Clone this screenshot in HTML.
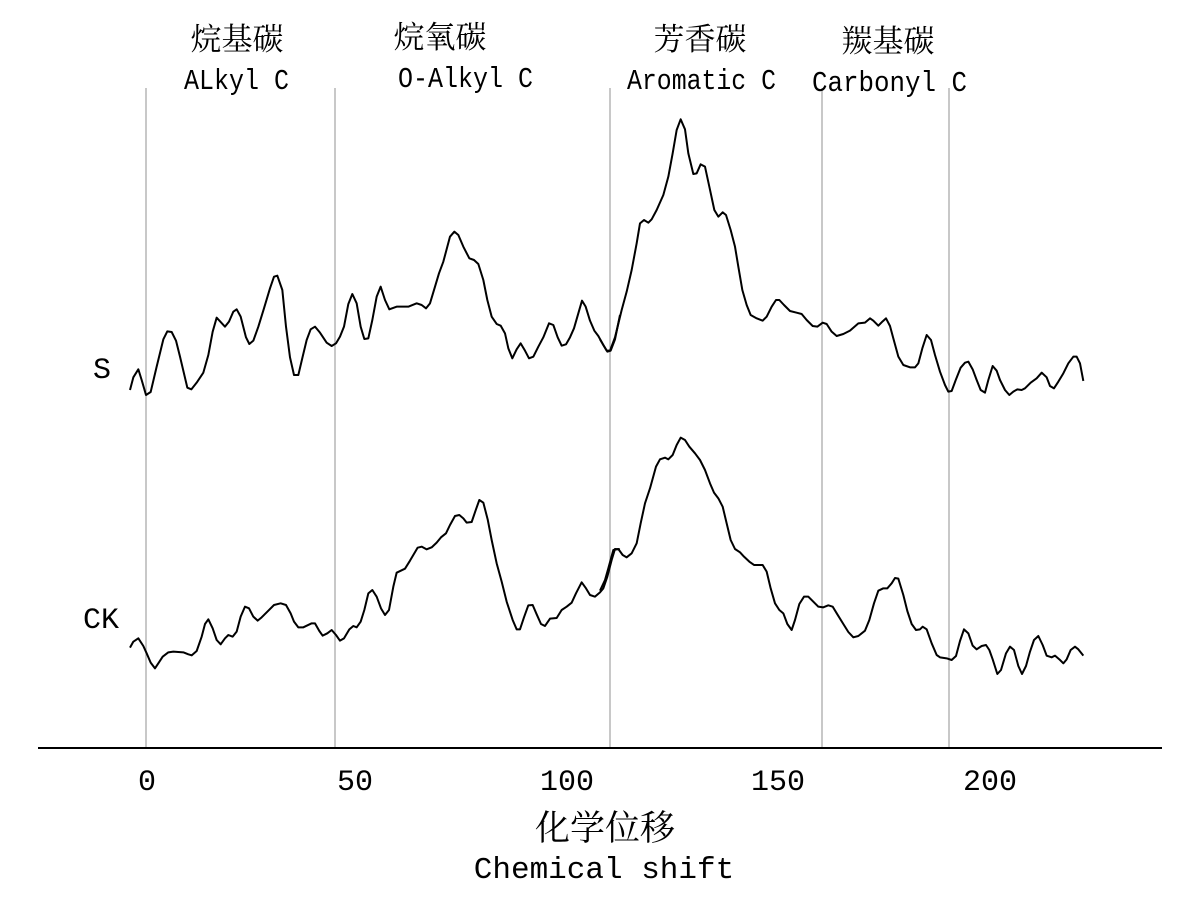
<!DOCTYPE html>
<html><head><meta charset="utf-8"><style>
html,body{margin:0;padding:0;background:#fff;}
svg{display:block}
.m{font-family:"Liberation Mono","Noto Serif CJK SC",monospace;fill:#000}
.c{font-family:"Noto Serif CJK SC","Noto Sans CJK SC",serif;fill:#000}
</style></head><body>
<svg width="1181" height="901" viewBox="0 0 1181 901" xmlns="http://www.w3.org/2000/svg">
<g stroke="#aaa" stroke-width="1.3">
<line x1="146" y1="88" x2="146" y2="748"/>
<line x1="335" y1="88" x2="335" y2="748"/>
<line x1="610" y1="88" x2="610" y2="748"/>
<line x1="822" y1="88" x2="822" y2="748"/>
<line x1="949" y1="88" x2="949" y2="748"/>
</g>
<line x1="38" y1="748" x2="1162" y2="748" stroke="#000" stroke-width="2"/>
<g fill="none" stroke="#000" stroke-width="2" stroke-linejoin="round">
<polyline vector-effect="non-scaling-stroke" transform="translate(120,100) scale(0.33333)" points="30,870 40,832 55,808 65,840 78,885 92,876 110,800 130,718 142,694 155,696 168,722 180,770 202,863 214,868 230,848 250,818 265,765 278,695 290,653 315,680 327,665 340,635 350,628 362,650 378,712 388,732 400,722 415,680 432,625 450,565 462,530 472,527 487,570 498,680 510,772 522,825 535,825 548,770 560,720 572,688 585,680 600,698 620,728 635,738 648,730 660,710 672,680 685,612 697,582 710,610 722,680 733,717 745,715 757,660 770,590 782,560 795,600 808,628 830,620 865,620 890,610 905,615 918,625 930,610 945,560 957,520 970,485 990,410 1003,395 1015,405 1030,440 1048,475 1062,480 1075,492 1090,540 1102,600 1115,650 1130,672 1142,677 1155,700 1165,745 1177,775 1190,748 1202,730 1215,752 1227,775 1240,770 1255,740 1270,712 1287,670 1300,675 1313,712 1325,737 1338,733 1350,712 1362,685 1375,640 1386,602 1397,620 1410,662 1423,692 1435,708 1450,735 1462,755 1472,752 1485,718 1500,645"/>
<polyline vector-effect="non-scaling-stroke" transform="translate(600,100) scale(0.33333)" points="0,718 20,752 30,752 45,712 65,630 80,575 95,510 110,430 120,370 132,360 145,368 155,358 170,330 190,285 205,230 218,160 230,90 242,58 255,88 265,160 280,222 290,220 302,193 315,200 328,260 343,330 355,350 368,337 378,345 392,390 405,440 415,500 427,570 440,615 452,645 470,655 488,662 500,650 515,620 528,600 538,600 552,615 570,633 590,638 605,642 620,660 638,678 652,680 668,668 680,672 695,695 710,708 730,702 750,692 775,670 795,668 810,655 820,662 835,677 848,664 858,655 870,678 880,715 895,770 910,795 930,802 945,802 955,790 967,745 980,705 993,720 1005,765 1020,815 1035,855 1045,875 1055,873 1068,838 1082,803 1095,788 1105,785 1118,808 1130,840 1142,870 1155,878 1165,840 1178,798 1190,812 1200,840 1215,870 1228,885 1240,875 1252,868 1265,870 1275,865 1292,848 1310,835 1325,818 1340,832 1350,858 1362,865 1375,845 1390,820 1405,790 1420,770 1430,770 1440,790 1450,843"/>
<polyline vector-effect="non-scaling-stroke" transform="translate(120,420) scale(0.33333)" points="30,683 40,665 55,655 70,678 80,700 92,728 105,745 115,730 128,710 145,697 160,695 190,697 205,703 215,706 230,693 245,650 255,612 265,598 278,625 290,660 302,673 315,655 325,645 338,650 350,635 362,590 375,560 387,565 400,590 413,602 425,592 445,572 462,555 482,550 498,555 512,580 522,605 535,622 550,622 575,610 585,610 598,633 608,647 622,640 635,630 648,645 660,662 672,655 688,628 700,618 710,622 722,605 733,570 745,520 757,510 770,530 783,565 795,585 807,570 820,500 830,458 855,446 870,422 893,383 905,380 920,388 935,382 950,368 963,352 978,340 990,315 1005,288 1018,285 1030,295 1040,308 1055,306 1068,268 1078,240 1090,248 1103,298 1115,360 1130,430 1145,485 1160,545 1178,600 1190,628 1200,628 1212,592 1225,556 1238,555 1250,583 1263,612 1275,618 1290,596 1310,594 1325,570 1340,560 1355,548 1368,520 1385,487 1398,505 1410,525 1425,530 1440,517 1450,505 1462,470 1475,420 1485,387 1500,388"/>
<polyline vector-effect="non-scaling-stroke" transform="translate(600,420) scale(0.33333)" points="0,512 15,480 25,445 40,390 55,387 68,405 80,412 95,400 110,370 122,310 135,250 150,205 168,140 180,118 195,113 205,118 218,105 230,75 242,53 255,60 268,80 285,100 300,120 315,150 330,190 342,218 355,235 368,260 380,310 392,360 405,387 420,397 432,410 448,425 462,435 488,435 500,455 512,505 525,550 538,570 550,580 562,612 575,630 585,600 598,552 612,530 625,530 640,545 655,560 670,562 685,556 698,560 712,583 730,612 745,636 760,652 775,648 795,632 808,600 822,550 835,512 850,505 862,505 875,490 885,474 895,476 910,525 922,573 935,612 948,630 960,628 968,620 980,628 995,670 1010,705 1020,712 1040,715 1055,720 1068,708 1080,663 1092,628 1105,640 1118,677 1130,688 1145,678 1158,675 1168,690 1178,718 1192,762 1203,750 1218,700 1230,680 1242,690 1255,738 1266,762 1278,738 1290,695 1302,660 1315,648 1328,675 1340,707 1355,712 1365,707 1378,718 1390,730 1400,718 1412,690 1425,680 1435,688 1450,707"/>
</g>
<g class="c" font-size="31" text-anchor="middle">
<text x="237" y="50">烷基碳</text>
<text x="440" y="48">烷氧碳</text>
<text x="700" y="50">芳香碳</text>
<text x="888" y="52">羰基碳</text>
<text x="605" y="840" font-size="35">化学位移</text>
</g>
<g class="m" font-size="29">
<text x="184" y="89" textLength="105" lengthAdjust="spacingAndGlyphs">ALkyl C</text>
<text x="398" y="87" textLength="135" lengthAdjust="spacingAndGlyphs">O-Alkyl C</text>
<text x="627" y="89" textLength="149" lengthAdjust="spacingAndGlyphs">Aromatic C</text>
<text x="812" y="91" textLength="155" lengthAdjust="spacingAndGlyphs">Carbonyl C</text>
</g>
<g class="m" font-size="30" text-anchor="middle">
<text x="147" y="790">0</text>
<text x="355" y="790">50</text>
<text x="567" y="790">100</text>
<text x="778" y="790">150</text>
<text x="990" y="790">200</text>
<text x="604" y="878" font-size="31">Chemical shift</text>
<text x="102" y="378">S</text>
<text x="101" y="628">CK</text>
</g>
</svg>
</body></html>
